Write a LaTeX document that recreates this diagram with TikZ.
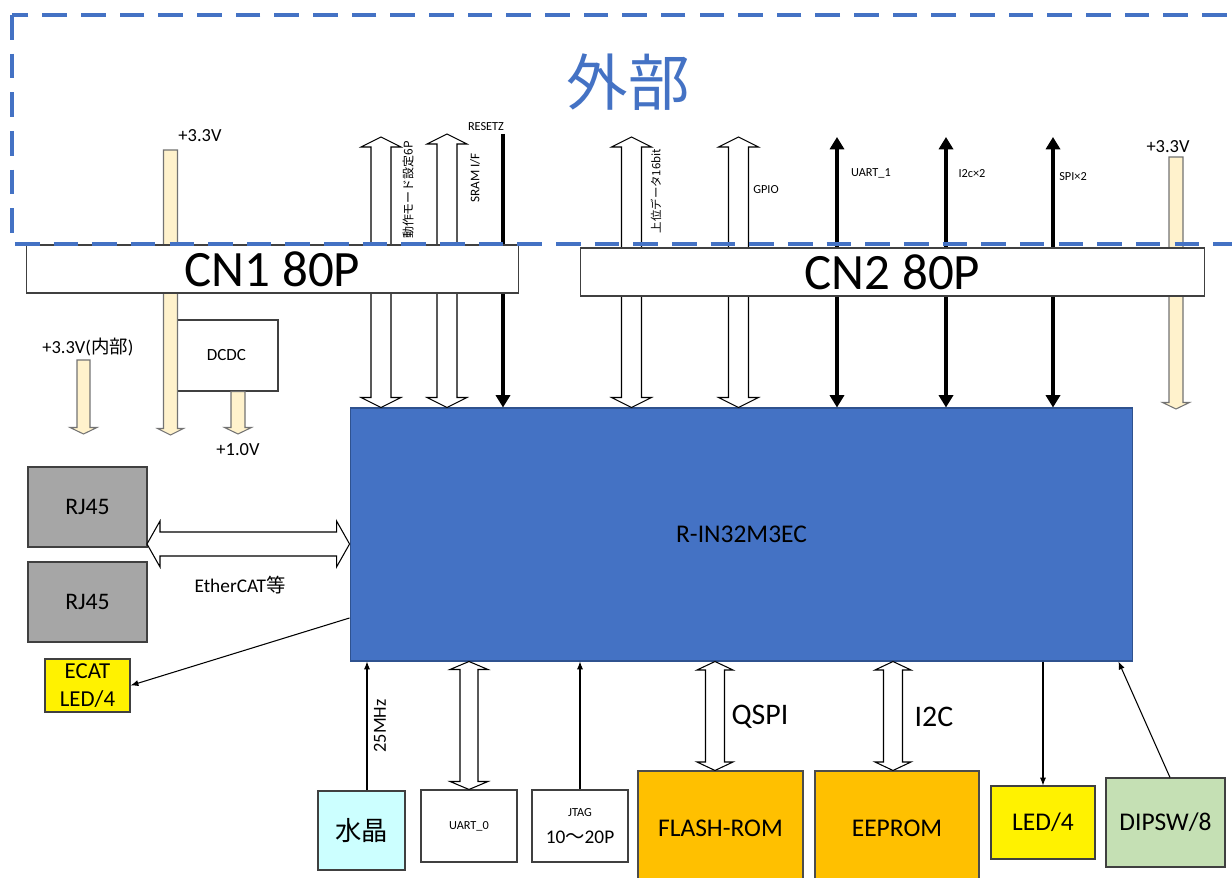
\documentclass[tikz,border=0pt]{standalone}
\usepackage{fontspec}
\setmainfont{Carlito}
\newfontfamily\jp{Noto Sans CJK JP}
\usetikzlibrary{calc,arrows.meta}
\definecolor{accent}{HTML}{4472C4}
\definecolor{chipline}{HTML}{2F528F}
\definecolor{tanfill}{HTML}{FFF2CC}
\definecolor{rjgray}{HTML}{A6A6A6}
\definecolor{xtalcyan}{HTML}{CCFFFF}
\definecolor{romorange}{HTML}{FFC000}
\definecolor{dipgreen}{HTML}{C5E0B4}
\newcommand\setfs[1]{\fontsize{#1}{#1}\selectfont}
\tikzset{
  box/.style={draw=black!75, line width=0.6pt, inner sep=0pt, align=center},
  lbl/.style={inner sep=0pt, font=\setfs{#1}},
  hollow/.style n args={3}{draw=black, line width=0.6pt, fill=white, to path={
    -- ($(\tikztostart)!#3!(\tikztotarget)!#2!90:(\tikztotarget)$)
    -- ($(\tikztostart)!#3!(\tikztotarget)!#1!90:(\tikztotarget)$)
    -- ($(\tikztotarget)!#3!(\tikztostart)!#1!90:(\tikztotarget)$)
    -- ($(\tikztotarget)!#3!(\tikztostart)!#2!90:(\tikztotarget)$)
    -- (\tikztotarget)
    -- ($(\tikztotarget)!#3!(\tikztostart)!#2!-90:(\tikztotarget)$)
    -- ($(\tikztotarget)!#3!(\tikztostart)!#1!-90:(\tikztotarget)$)
    -- ($(\tikztostart)!#3!(\tikztotarget)!#1!-90:(\tikztotarget)$)
    -- ($(\tikztostart)!#3!(\tikztotarget)!#2!-90:(\tikztotarget)$)
    -- cycle}},
  power/.style n args={3}{draw=black!55, line width=0.6pt, fill=tanfill, to path={
    ($(\tikztostart)!#1!90:(\tikztotarget)$)
    -- ($(\tikztotarget)!#3!(\tikztostart)!#1!90:(\tikztotarget)$)
    -- ($(\tikztotarget)!#3!(\tikztostart)!#2!90:(\tikztotarget)$)
    -- (\tikztotarget)
    -- ($(\tikztotarget)!#3!(\tikztostart)!#2!-90:(\tikztotarget)$)
    -- ($(\tikztotarget)!#3!(\tikztostart)!#1!-90:(\tikztotarget)$)
    -- ($(\tikztostart)!#1!-90:(\tikztotarget)$)
    -- cycle}},
  bus/.style={line width=2.2pt},
  sig/.style={line width=0.6pt, -{Latex[length=4.5pt,width=3.5pt]}},
}
\begin{document}
\begin{tikzpicture}[x=0.02cm,y=-0.02cm]
\useasboundingbox (0,0) rectangle (1232,878);

\node[box, fill=accent, draw=chipline, minimum width=15.66cm, minimum height=5.06cm, font=\setfs{14.5}] (chip) at (741.5,534.5) {R-IN32M3EC};
\node[box, minimum width=2.06cm, minimum height=1.42cm, font=\setfs{9.7}] (dcdc) at (226.5,355.5) {DCDC};
\node[box, fill=rjgray, minimum width=2.38cm, minimum height=1.6cm, font=\setfs{13.5}] (rj1) at (87.5,507) {RJ45};
\node[box, fill=rjgray, minimum width=2.38cm, minimum height=1.6cm, font=\setfs{13.5}] (rj2) at (87.5,602) {RJ45};
\node[box, fill=yellow, minimum width=1.7cm, minimum height=1.06cm, font={\fontsize{13}{16}\selectfont}] (ecat) at (87.5,685.5) {ECAT\\LED/4};
\node[box, fill=xtalcyan, minimum width=1.74cm, minimum height=1.58cm, font=\setfs{15}] (xtal) at (361.5,830.5) {\jp 水晶};
\node[box, minimum width=1.92cm, minimum height=1.44cm, font=\setfs{7}] (uart0) at (469,826) {UART\_0};
\node[box, minimum width=1.92cm, minimum height=1.44cm] (jtag) at (580,826) {\setfs{7}JTAG\\[3pt]\setfs{11}10{\jp 〜}20P};
\node[box, fill=romorange, draw=black!70, minimum width=3.3cm, minimum height=2.28cm, font=\setfs{14.5}] (flash) at (720.5,828) {FLASH-ROM};
\node[box, fill=romorange, draw=black!70, minimum width=3.28cm, minimum height=2.28cm, font=\setfs{14.5}] (eeprom) at (897,828) {EEPROM};
\node[box, fill=yellow, minimum width=2.08cm, minimum height=1.46cm, font=\setfs{14.5}] (led) at (1043,822.5) {LED/4};
\node[box, fill=dipgreen, minimum width=2.38cm, minimum height=1.78cm, font=\setfs{14.5}] (dipsw) at (1165.5,822.5) {DIPSW/8};

\coordinate (p33a) at (170.5,150);
\coordinate (p33b) at (170.5,435);
\coordinate (pin) at (83.5,360);
\coordinate (pinb) at (83.5,434);
\coordinate (p10) at (238,434);
\coordinate (p33c) at (1176,157);
\coordinate (p33d) at (1176,409);
\draw[power={0.14cm}{0.26cm}{0.13cm}] (p33a) to (p33b);
\draw[power={0.13cm}{0.27cm}{0.13cm}] (pin) to (pinb);
\draw[power={0.14cm}{0.27cm}{0.13cm}] (dcdc.south -| p10) to (p10);
\draw[power={0.14cm}{0.27cm}{0.13cm}] (p33c) to (p33d);

\foreach \n/\x/\y in {mode/381/137, sram/447/134, data/631.5/137, gpio/738.5/137}{
  \coordinate (\n) at (\x,\y);
  \draw[hollow={0.2cm}{0.4cm}{0.2cm}] (\n) to (\n |- chip.north);
}
\coordinate (reset) at (503,134);
\draw[bus, -{Triangle[length=7pt,width=8pt]}] (reset) -- (reset |- chip.north);
\foreach \n/\x in {uart1/837, i2c/946, spi/1053}{
  \coordinate (\n) at (\x,137);
  \draw[bus, {Triangle[length=7pt,width=8pt]}-{Triangle[length=7pt,width=8pt]}] (\n) -- (\n |- chip.north);
}

\node[box, fill=white, minimum width=9.86cm, minimum height=0.96cm, font=\setfs{29}] (cn1) at (272.5,269) {CN1 80P};
\node[box, fill=white, minimum width=12.5cm, minimum height=0.96cm, font=\setfs{29}] (cn2) at (892.5,272) {CN2 80P};
\draw[accent, line width=2.3pt, dash pattern=on 14pt off 8pt] (12,15) rectangle (1260,244);

\coordinate (eth) at (147,544);
\draw[hollow={0.24cm}{0.46cm}{0.26cm}] (eth) to (eth -| chip.west);
\draw[sig] ([yshift=-1.67cm]chip.west) -- (ecat.east);

\coordinate (xt) at ([xshift=0.11cm]xtal.north);
\draw[sig] (xt) -- (xt |- chip.south);
\draw[hollow={0.18cm}{0.38cm}{0.16cm}] (uart0.north |- chip.south) to (uart0.north);
\draw[sig] (jtag.north) -- (jtag.north |- chip.south);
\coordinate (qs) at ([xshift=-0.11cm]flash.north);
\draw[hollow={0.19cm}{0.36cm}{0.17cm}] (qs |- chip.south) to (qs);
\coordinate (ee) at ([xshift=-0.08cm]eeprom.north);
\draw[hollow={0.19cm}{0.36cm}{0.17cm}] (ee |- chip.south) to (ee);
\draw[sig] (led.north |- chip.south) -- (led.north);
\draw[sig] ([xshift=0.09cm]dipsw.north) -- ([xshift=-0.3cm]chip.south east);

\node[lbl=35, text=accent] (outside) at (628,82) {\jp 外部};
\node[lbl=10.5] (v33l) at (200,136) {+3.3V};
\node[lbl=10.5] (v33in) at (88,347) {+3.3V({\jp 内部})};
\node[lbl=10.5] (v10) at (238,450) {+1.0V};
\node[lbl=10.5] (v33r) at (1168,147) {+3.3V};
\node[lbl=11] (ethlbl) at (240,585) {EtherCAT{\jp 等}};
\node[lbl=7] (resetlbl) at (486,127) {RESETZ};
\node[lbl=6.8, rotate=90] (modelbl) at (408,190) {\jp 動作モード設定6P};
\node[lbl=7.5, rotate=90] (sramlbl) at (475,178) {SRAM I/F};
\node[lbl=6.5, rotate=90] (datalbl) at (656,191) {\jp 上位データ16bit};
\node[lbl=7] (gpiolbl) at (766,190) {GPIO};
\node[lbl=7] (uart1lbl) at (871,173) {UART\_1};
\node[lbl=7] (i2clbl) at (972,174) {I2c×2};
\node[lbl=7] (spilbl) at (1073,177) {SPI×2};
\node[lbl=10.5, rotate=90] (mhz) at (380,726) {25MHz};
\node[lbl=17] (qspilbl) at (760,717) {QSPI};
\node[lbl=17] (i2cbus) at (934,717) {I2C};
\end{tikzpicture}
\end{document}
